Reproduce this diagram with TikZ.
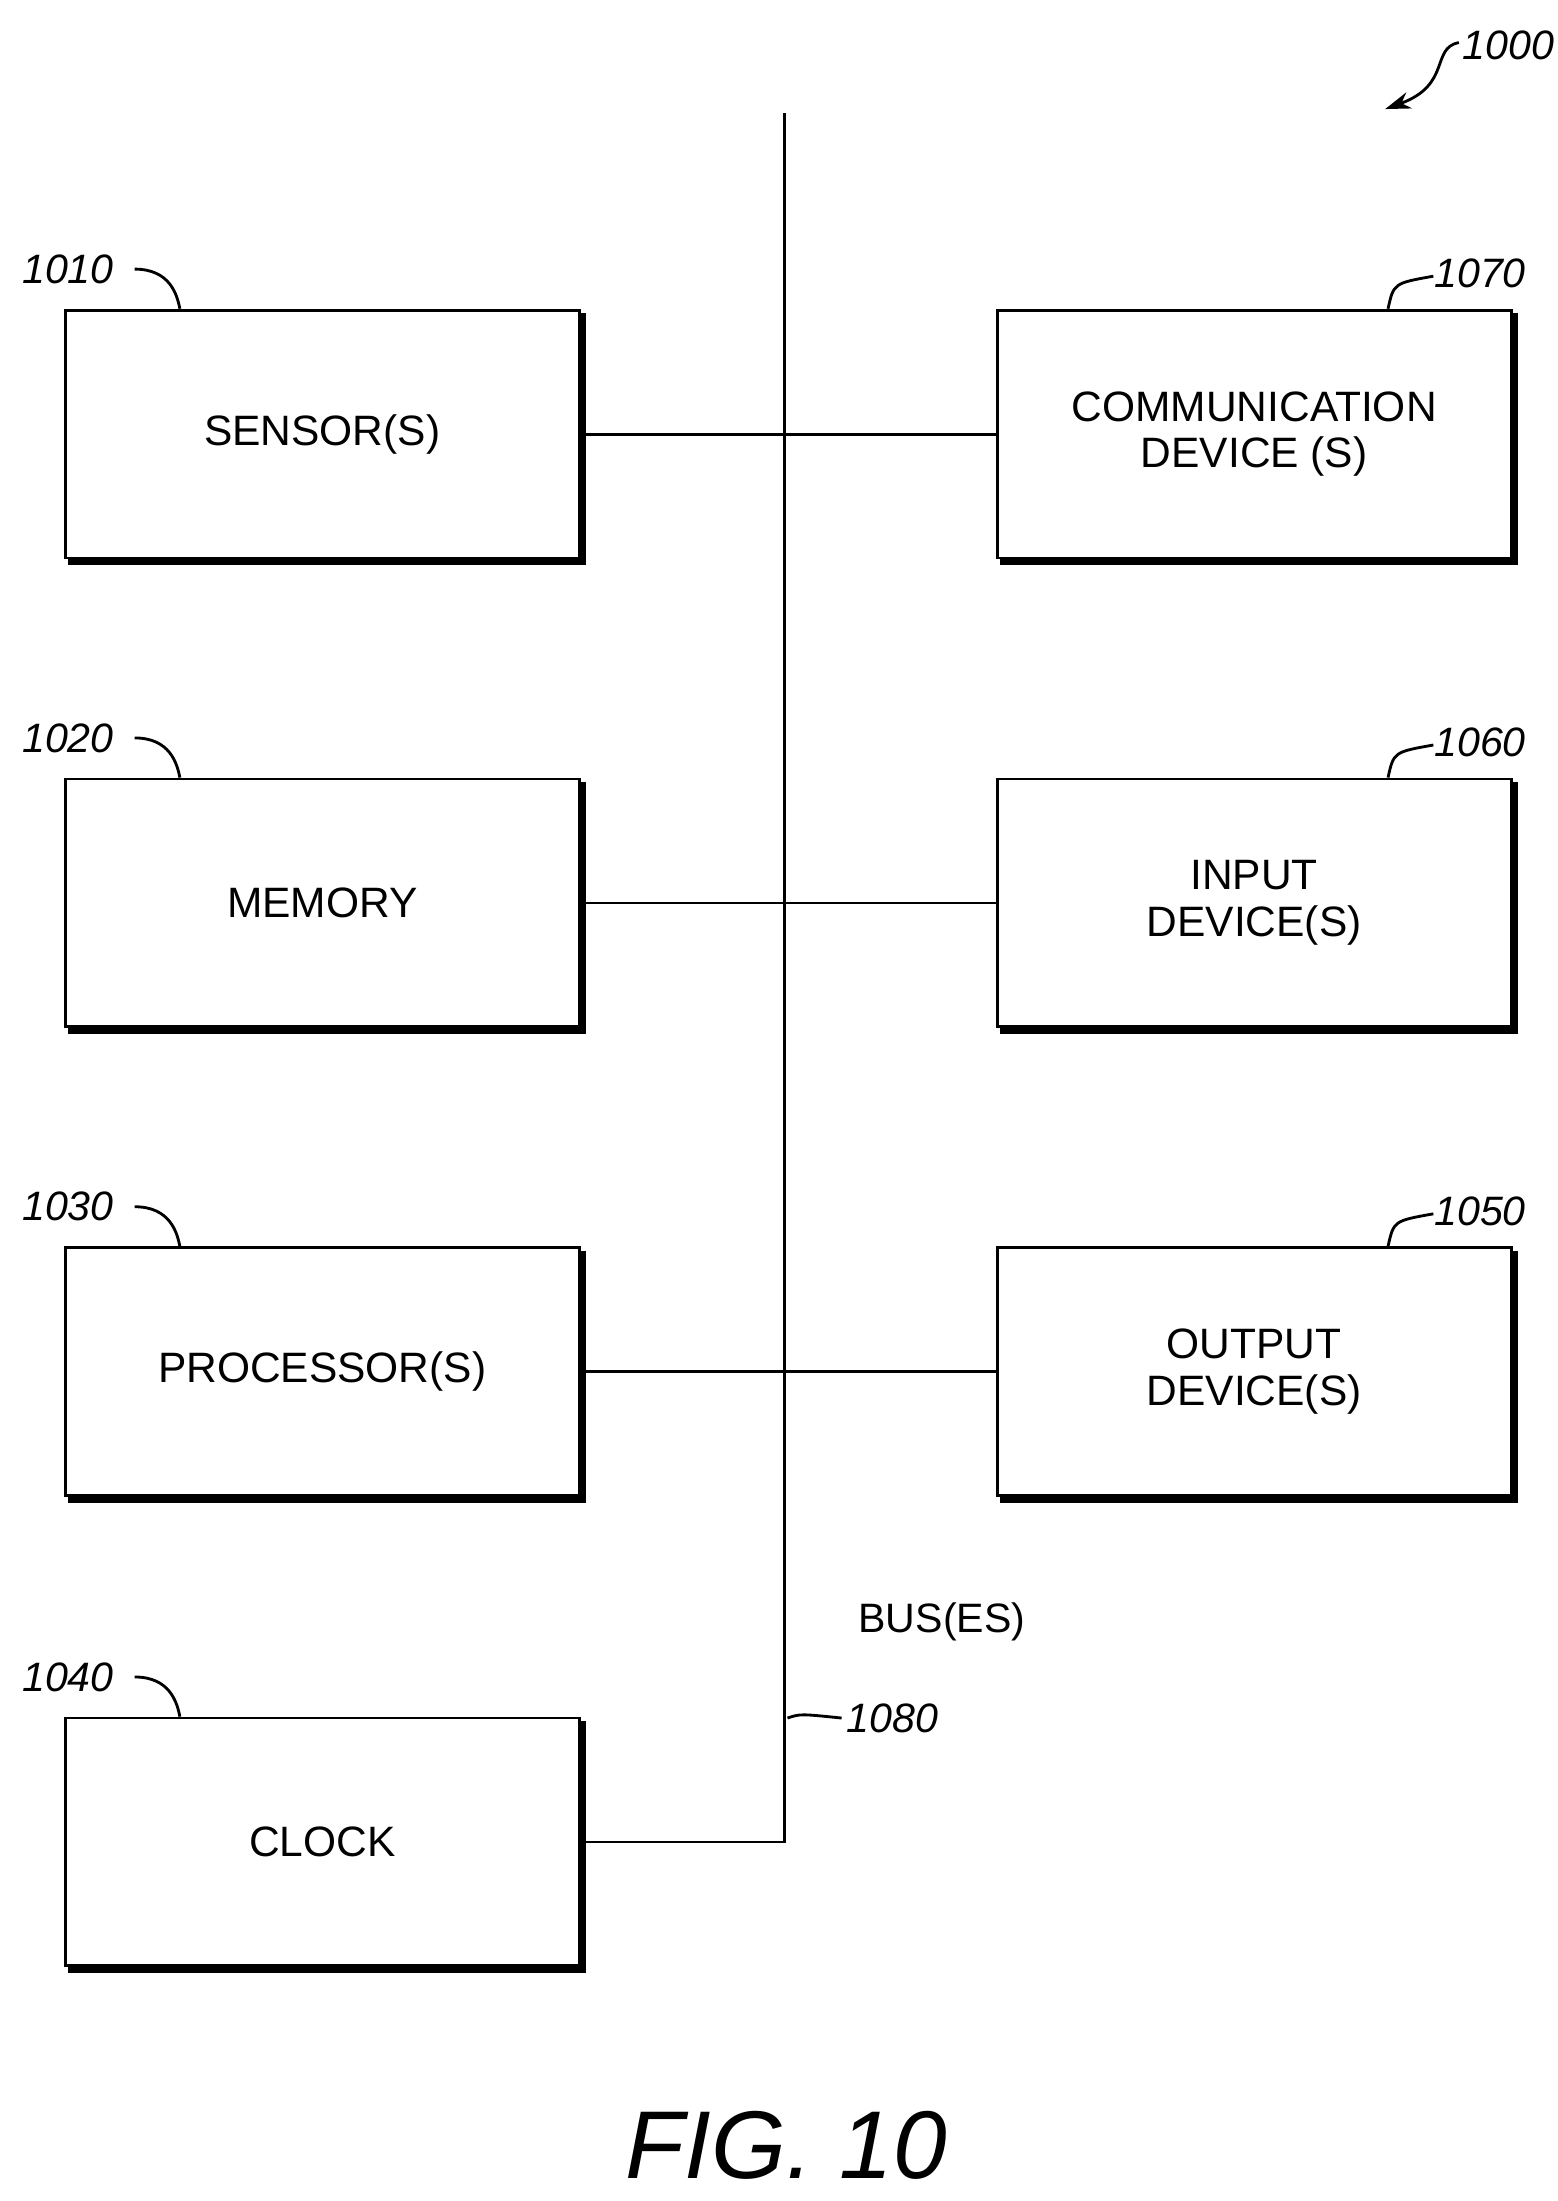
\documentclass[tikz,border=0pt]{standalone}
\usetikzlibrary{arrows.meta}
\usepackage{fontspec}
\setmainfont{Liberation Sans}
\begin{document}
\begin{tikzpicture}[x=1pt,y=-1pt,
  box/.style={draw,line width=2pt,minimum width=363pt,minimum height=175pt,anchor=north west,inner sep=0pt,align=center,font=\fontsize{30}{33}\selectfont},
  shadow/.style={line width=4pt},
  lbl/.style={font=\fontsize{29}{30}\selectfont\itshape},
  ln/.style={line width=2pt}]
\useasboundingbox (0,0) rectangle (1100,1554);
\foreach \n/\x/\y/\t in {s/45/218/SENSOR(S), m/45/549/MEMORY, p/45/880/PROCESSOR(S), c/45/1212/CLOCK,
  cd/703/218/{COMMUNICATION\\DEVICE (S)}, id/703/549/{INPUT\\DEVICE(S)}, od/703/880/{OUTPUT\\DEVICE(S)}}{
  \node[box] (\n) at (\x,\y) {\t};
  \draw[shadow] ([xshift=2pt,yshift=-3pt]\n.north east) -- ([xshift=2pt,yshift=-2pt]\n.south east) -- ([xshift=3pt,yshift=-2pt]\n.south west);
}
\coordinate (bt) at (554,80);
\draw[ln] (bt) -- (bt |- c.east) -- (c.east);
\draw[ln] (s.east) -- (cd.west);
\draw[ln] (m.east) -- (id.west);
\draw[ln] (p.east) -- (od.west);
\foreach \n/\t in {s/1010,m/1020,p/1030,c/1040}{
  \node[lbl] at ([xshift=3pt,yshift=28pt]\n.north west) {\t};
  \draw[ln] ([xshift=50pt,yshift=28pt]\n.north west) .. controls ([xshift=75pt,yshift=28pt]\n.north west) and ([xshift=80pt,yshift=10pt]\n.north west) .. ([xshift=82pt,yshift=0pt]\n.north west);
}
\foreach \n/\t in {cd/1070,id/1060,od/1050}{
  \node[lbl] at ([xshift=-23pt,yshift=25pt]\n.north east) {\t};
  \draw[ln] ([xshift=-88pt,yshift=0pt]\n.north east) .. controls ([xshift=-84pt,yshift=18pt]\n.north east) .. ([xshift=-56pt,yshift=23pt]\n.north east);
}
\node[lbl] (n1000) at (1065,32) {1000};
\coordinate (a1) at (1030,30);
\coordinate (a2) at (978,77);
\draw[ln,-{Stealth[length=18pt,width=12pt]}] (a1) .. controls (1010,34) and (1025,60) .. (a2);
\node[font=\fontsize{29}{30}\selectfont] (bus) at (665,1145) {BUS(ES)};
\coordinate (l1) at (556,1213);
\node[lbl] (n1080) at (630,1213) {1080};
\draw[ln] (l1) .. controls (565,1210) .. (n1080.west);
\node[font=\fontsize{68}{70}\selectfont\itshape] (fig) at (555,1515) {FIG. 10};
\end{tikzpicture}
\end{document}
